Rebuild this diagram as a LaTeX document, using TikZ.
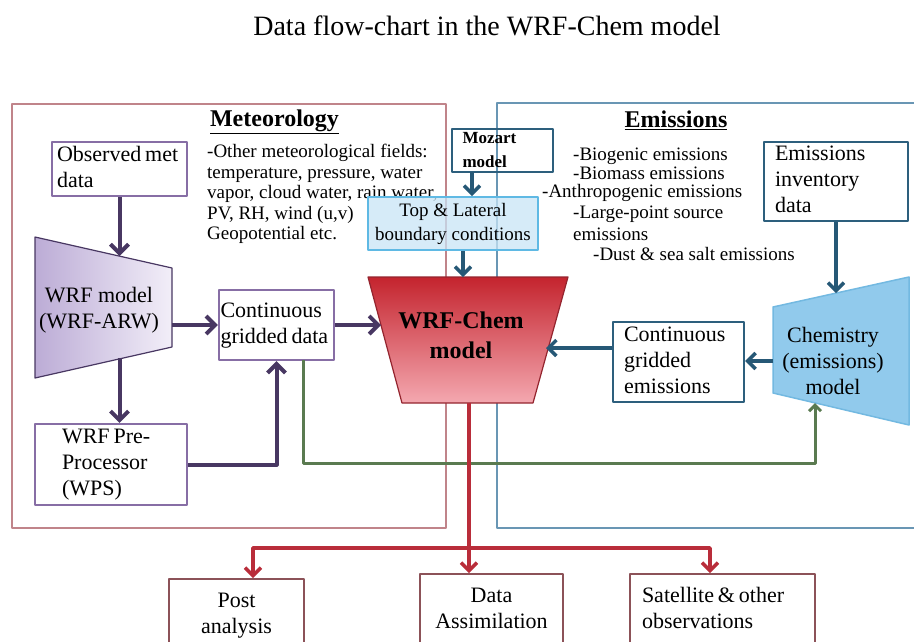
\documentclass[tikz,border=0pt]{standalone}
\usepackage{fontspec}
\usepackage{graphicx}
\setmainfont{Liberation Serif}
\usetikzlibrary{arrows.meta}
\definecolor{metred}{RGB}{192,132,138}
\definecolor{emblue}{RGB}{105,150,180}
\definecolor{boxpurple}{RGB}{135,110,165}
\definecolor{arrpurple}{RGB}{72,55,98}
\definecolor{boxteal}{RGB}{45,95,125}
\definecolor{arrteal}{RGB}{38,88,118}
\definecolor{bcfill}{RGB}{200,228,245}
\definecolor{bcline}{RGB}{95,185,228}
\definecolor{chmfill}{RGB}{145,202,236}
\definecolor{chmline}{RGB}{115,185,225}
\definecolor{chemtop}{RGB}{196,36,46}
\definecolor{chembot}{RGB}{244,168,176}
\definecolor{arrred}{RGB}{185,45,58}
\definecolor{boxbrown}{RGB}{140,82,88}
\definecolor{arrgreen}{RGB}{90,122,80}
\definecolor{wrfleft}{RGB}{188,172,214}
\definecolor{wrfright}{RGB}{242,238,248}
\newcommand{\bodytext}[2][l]{\scalebox{1.158}{\fontsize{19}{22.45}\selectfont\begin{tabular}{@{}#1@{}}#2\end{tabular}}}

\begin{document}
\begin{tikzpicture}[x=1pt, y=-1pt, line join=round,
	smalltxt/.style={font=\fontsize{19}{20.5}\selectfont},
	main/.style={draw, line width=2.2pt, inner sep=0pt, align=left},
	metbox/.style={main, draw=boxpurple},
	embox/.style={main, draw=boxteal},
	outbox/.style={main, draw=boxbrown, anchor=north, inner ysep=10pt},
	metarrow/.style={line width=4pt, draw=arrpurple, -{Straight Barb[length=9pt,width=18pt]}},
	emarrow/.style={line width=3.5pt, draw=arrteal, -{Straight Barb[length=8pt,width=16pt]}},
	greenarrow/.style={line width=3pt, draw=arrgreen, -{Straight Barb[length=6pt,width=12pt]}},
	redarrow/.style={line width=3.5pt, draw=arrred, -{Straight Barb[length=8pt,width=16pt]}}]
	\useasboundingbox (0,0) rectangle (914,641);
	\node[font=\fontsize{28}{32}\selectfont] (title) at (487,26) {Data flow-chart in the WRF-Chem model};
	\draw[metred, line width=2pt] (12,104) rectangle (446,528);
	\draw[emblue, line width=2pt] (497,103) rectangle (930,528);
	\node[font=\bfseries\fontsize{24}{28}\selectfont] (met) at (274.5,122) {\underline{Meteorology}};
	\node[font=\bfseries\fontsize{24}{28}\selectfont] (emis) at (676,120) {\underline{Emissions}};
	\node[smalltxt, align=left, inner sep=0pt, anchor=north west] (fields) at (207,144)
		{-Other meteorological fields:\\temperature, pressure, water\\vapor, cloud water, rain water,\\PV, RH, wind (u,v)\\Geopotential etc.};
	\node[smalltxt, anchor=base west, inner sep=0pt] (e1) at (573,160) {-Biogenic emissions};
	\node[smalltxt, anchor=base west, inner sep=0pt] (e2) at (573,179) {-Biomass emissions};
	\node[smalltxt, anchor=base west, inner sep=0pt] (e3) at (542,197) {-Anthropogenic emissions};
	\node[smalltxt, anchor=base west, inner sep=0pt] (e4) at (573,218) {-Large-point source};
	\node[smalltxt, anchor=base west, inner sep=0pt] (e5) at (573,240) {emissions};
	\node[smalltxt, anchor=base west, inner sep=0pt] (e6) at (593,260) {-Dust \& sea salt emissions};

	\node[metbox, minimum width=135pt, minimum height=54pt, text width=125pt] (obs) at (119.5,169) {\bodytext{Observed met\\data}};
	\shade[left color=wrfleft, right color=wrfright, draw=arrpurple, line width=1.2pt]
		(35,237) -- (172,268) -- (172,347) -- (35,378) -- cycle;
	\node[inner sep=0pt] (wrf) at (99,310) {\bodytext[c]{WRF model\\(WRF-ARW)}};
	\coordinate (wrfin) at (119.5,256);
	\coordinate (wrfout) at (119.5,358);
	\coordinate (wrfright) at (172,325);
	\node[metbox, minimum width=115pt, minimum height=70pt, text width=112pt] (grid) at (276.5,325) {\bodytext{Continuous\\gridded data}};
	\node[metbox, minimum width=152pt, minimum height=81pt, text width=98pt] (wps) at (111,464.5) {\bodytext{WRF Pre-\\Processor\\(WPS)}};
	\coordinate (gsrc) at (303,360);

	\node[embox, minimum width=101pt, minimum height=43pt, text width=80pt, font=\bfseries\fontsize{17}{24}\selectfont] (mozart) at (502.5,150.5) {Mozart\\model};
	\node[draw=bcline, fill=bcfill, fill opacity=0.75, text opacity=1, line width=2pt, minimum width=170pt, minimum height=53pt, align=center, font=\fontsize{19}{24}\selectfont] (bc) at (453,223.5) {Top \& Lateral\\boundary conditions};
	\shade[top color=chemtop, bottom color=chembot, draw=arrred!80!black, line width=1.2pt]
		(368,277) -- (568,277) -- (533,403) -- (402,403) -- cycle;
	\node[align=center, font=\bfseries\fontsize{24}{30}\selectfont] (chem) at (461,335) {WRF-Chem\\model};
	\coordinate (mozout) at (472,172);
	\coordinate (chemtopin) at (463,277);
	\coordinate (chemleft) at (381,325);
	\coordinate (chemright) at (546,348);
	\coordinate (chemout) at (469,403);

	\node[embox, minimum width=144pt, minimum height=79pt, text width=122pt] (inv) at (836,181.5) {\bodytext{Emissions\\inventory\\data}};
	\fill[chmfill, draw=chmline, line width=1.5pt] (773,307) -- (909,277) -- (909,425) -- (773,393) -- cycle;
	\node[inner sep=0pt] (chm) at (833,363) {\bodytext[c]{Chemistry\\(emissions)\\model}};
	\coordinate (chmtop) at (836,293);
	\coordinate (chmleft) at (773,361);
	\coordinate (chmbot) at (815,403);
	\coordinate (gturn) at (815,463);
	\node[embox, minimum width=131pt, minimum height=80pt, text width=109pt] (egrid) at (678.5,362) {\bodytext{Continuous\\gridded\\emissions}};

	\node[outbox, minimum width=135pt, text width=120pt, align=center] (post) at (236.5,578) {\bodytext[c]{Post\\analysis}};
	\node[outbox, minimum width=143pt, text width=130pt, align=center] (dassim) at (491.5,573) {\bodytext[c]{Data\\Assimilation}};
	\node[outbox, minimum width=185pt, text width=161pt] (sat) at (722.5,573) {\bodytext{Satellite \& other\\observations}};
	\coordinate (split) at (469,548);

	\draw[metarrow] (obs.south) -- (wrfin);
	\draw[metarrow] (wrfout) -- (wrfout |- wps.north);
	\draw[metarrow] (wrfright) -- (grid.west);
	\draw[metarrow] (wps.east) -| (grid.south);
	\draw[metarrow] (grid.east) -- (chemleft);
	\draw[emarrow] (mozout) -- (mozout |- bc.north);
	\draw[emarrow] (bc.south -| chemtopin) -- (chemtopin);
	\draw[emarrow] (inv.south) -- (chmtop);
	\draw[emarrow] (chmleft) -- (chmleft -| egrid.east);
	\draw[emarrow] (egrid.west |- chemright) -- (chemright);
	\draw[greenarrow] (gsrc) |- (gturn) -- (chmbot);
	\draw[redarrow] (chemout) -- (split) -- (split |- dassim.north);
	\draw[redarrow] (split) -| ([xshift=16.5pt]post.north);
	\draw[redarrow] (split) -| ([xshift=-12.5pt]sat.north);
\end{tikzpicture}
\end{document}
